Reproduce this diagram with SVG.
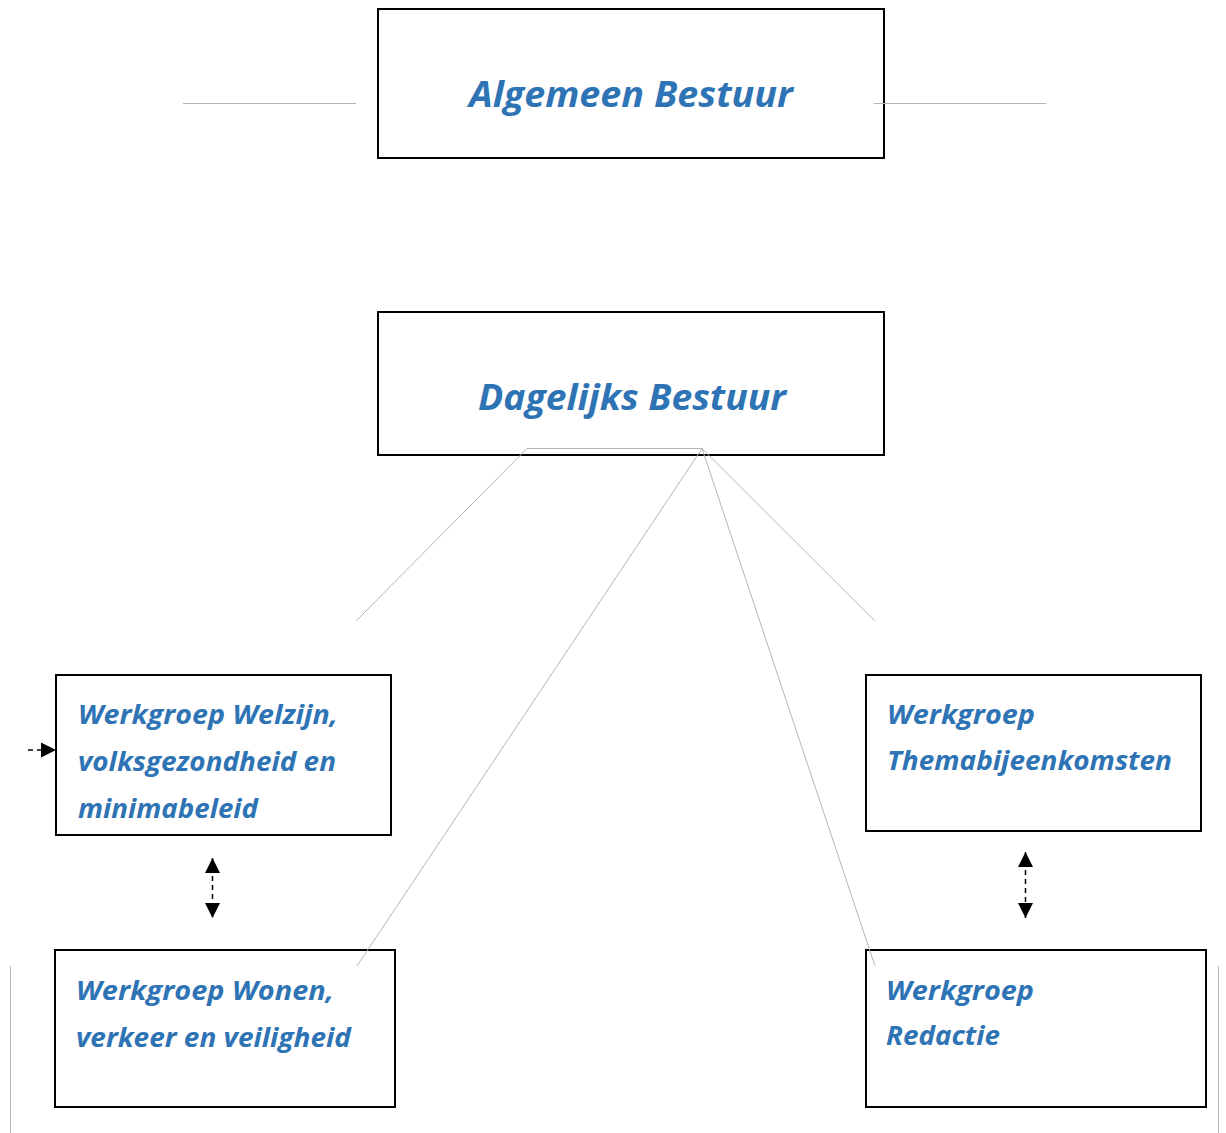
<svg xmlns="http://www.w3.org/2000/svg" width="1226" height="1133" viewBox="0 0 1226 1133">
<defs>
<style>
.box{fill:#fff;stroke:#000;stroke-width:2}
.t{font-family:"Open Sans","Noto Sans","Liberation Sans",sans-serif;font-weight:bold;font-style:italic;fill:#2E74B5}
.big{font-size:36px}
.sm{font-size:27px}
.thin{stroke:#b5b5b5;stroke-width:1;fill:none}
.dash{stroke:#000;stroke-width:1.5;stroke-dasharray:5,4;fill:none}
</style>
<marker id="ah" viewBox="0 0 10 10" refX="10" refY="5" markerWidth="15" markerHeight="16" markerUnits="userSpaceOnUse" orient="auto-start-reverse">
<path d="M0,0 L10,5 L0,10 z" fill="#000"/>
</marker>
</defs>
<rect width="1226" height="1133" fill="#fff"/>
<g id="algemeen-bestuur">
<rect class="box" x="378" y="9" width="506" height="149"/>
<text class="t big" x="469" y="107" textLength="324" lengthAdjust="spacingAndGlyphs">Algemeen Bestuur</text>
</g>
<g id="dagelijks-bestuur">
<rect class="box" x="378" y="312" width="506" height="143"/>
<text class="t big" x="478" y="410" textLength="308" lengthAdjust="spacingAndGlyphs">Dagelijks Bestuur</text>
</g>
<g id="werkgroep-welzijn">
<rect class="box" x="56" y="675" width="335" height="160"/>
<text class="t sm" x="78" y="724" textLength="260" lengthAdjust="spacingAndGlyphs">Werkgroep Welzijn,</text>
<text class="t sm" x="78" y="771" textLength="258" lengthAdjust="spacingAndGlyphs">volksgezondheid en</text>
<text class="t sm" x="78" y="818" textLength="180" lengthAdjust="spacingAndGlyphs">minimabeleid</text>
</g>
<g id="werkgroep-wonen">
<rect class="box" x="55" y="950" width="340" height="157"/>
<text class="t sm" x="76" y="1000" textLength="258" lengthAdjust="spacingAndGlyphs">Werkgroep Wonen,</text>
<text class="t sm" x="76" y="1047" textLength="275" lengthAdjust="spacingAndGlyphs">verkeer en veiligheid</text>
</g>
<g id="werkgroep-thema">
<rect class="box" x="866" y="675" width="335" height="156"/>
<text class="t sm" x="887" y="724" textLength="148" lengthAdjust="spacingAndGlyphs">Werkgroep</text>
<text class="t sm" x="887" y="770" textLength="285" lengthAdjust="spacingAndGlyphs">Themabijeenkomsten</text>
</g>
<g id="werkgroep-redactie">
<rect class="box" x="866" y="950" width="340" height="157"/>
<text class="t sm" x="886" y="1000" textLength="148" lengthAdjust="spacingAndGlyphs">Werkgroep</text>
<text class="t sm" x="886" y="1045" textLength="114" lengthAdjust="spacingAndGlyphs">Redactie</text>
</g>
<g id="connectors">
<line class="thin" x1="183" y1="103.5" x2="356" y2="103.5"/>
<line class="thin" x1="874" y1="103.5" x2="1046" y2="103.5"/>
<line class="thin" x1="10.5" y1="966" x2="10.5" y2="1133"/>
<line class="thin" x1="1218.5" y1="966" x2="1218.5" y2="1133"/>
<polyline class="thin" points="356,621 527,448.5 702,448.5 875,621"/>
<line class="thin" x1="702" y1="448.5" x2="357" y2="966"/>
<line class="thin" x1="702" y1="448.5" x2="875" y2="966"/>
<line class="dash" x1="28" y1="750" x2="56" y2="750" marker-end="url(#ah)"/>
<line class="dash" x1="212.5" y1="858" x2="212.5" y2="918" marker-start="url(#ah)" marker-end="url(#ah)"/>
<line class="dash" x1="1025.5" y1="852" x2="1025.5" y2="918" marker-start="url(#ah)" marker-end="url(#ah)"/>
</g>
</svg>
